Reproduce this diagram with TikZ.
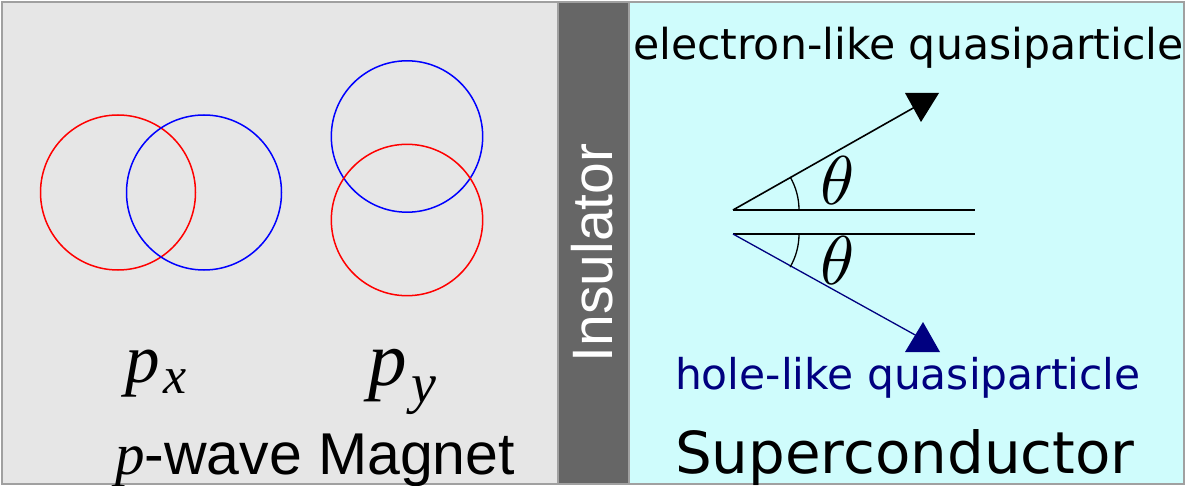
\documentclass[tikz,border=0pt]{standalone}
\usepackage{fontspec}
\newfontfamily\dejavu{DejaVu Sans}
\newfontfamily\arialf{Liberation Sans}
\newfontfamily\tnr{Liberation Serif}
\definecolor{panelgray}{RGB}{230,230,230}
\definecolor{bordergray}{RGB}{160,160,160}
\definecolor{insgray}{RGB}{102,102,102}
\definecolor{sccyan}{RGB}{207,252,252}
\definecolor{navyc}{RGB}{0,0,128}
\begin{document}
\begin{tikzpicture}[x=1pt,y=-1pt,
  panel/.style={draw=bordergray,line width=2pt},
  orbit/.style={line width=1.5pt},
  txt/.style={inner sep=0pt,outer sep=0pt},
  ray/.style={line width=1.6pt},
  tip/.style={fill,draw=none}]
\useasboundingbox (0,0) rectangle (1190,486);
% panels
\draw[panel,fill=panelgray] (2,2) rectangle (558,484);
\draw[panel,fill=insgray] (558,2) rectangle (629,484);
\draw[panel,fill=sccyan] (629,2) rectangle (1184,484);
% orbitals
\draw[orbit,red] (118,192.5) circle (77.5);
\draw[orbit,blue] (204,192.5) circle (77.5);
\draw[orbit,blue] (407,136.5) circle (75.7);
\draw[orbit,red] (407,220) circle (75.7);
% labels left
\node[txt,anchor=base west] (px) at (125,382) {\tnr\itshape\fontsize{69}{69}\selectfont p\kern4pt\raisebox{-11pt}{\fontsize{52}{52}\selectfont x}};
\node[txt,anchor=base west] (py) at (368,385) {\tnr\itshape\fontsize{77}{77}\selectfont p\kern5pt\raisebox{-17pt}{\fontsize{56}{56}\selectfont y}};
\node[txt,anchor=base west] (mag) at (115,474) {\fontsize{59}{59}\selectfont{\tnr\itshape p}{\arialf -wave Magnet}};
% insulator
\node[txt,rotate=90,text=white] (ins) at (592,253) {\arialf\fontsize{57}{57}\selectfont Insulator};
% superconductor side
\node[txt,anchor=base west] (el) at (633,60) {\dejavu\fontsize{42.6}{50}\selectfont electron-like quasiparticle};
\node[txt,anchor=base west,text=navyc] (hole) at (675,389) {\dejavu\fontsize{42.4}{50}\selectfont hole-like quasiparticle};
\node[txt,anchor=base west] (sc) at (675,473) {\dejavu\fontsize{57.9}{60}\selectfont Superconductor};
% geometry
\coordinate (v1) at (733,210);
\coordinate (v2) at (733,234);
\coordinate (h1) at (975,210);
\coordinate (h2) at (975,234);
\coordinate (e1) at (915,107);
\coordinate (e2) at (917,336);
\draw[line width=1.4pt] (v1) -- (h1);
\draw[line width=1.4pt] (v2) -- (h2);
\draw[ray,black] (v1) -- (e1);
\draw[ray,navyc,line width=1.3pt] (v2) -- (e2);
\fill[black] (905,93) -- (939,93) -- (921,122) -- cycle;
\fill[navyc] (905,352) -- (940,352) -- (923,322) -- cycle;
\draw[line width=1.3pt] ([shift={(66,0)}]v1) arc[start angle=0,end angle=-30,radius=66];
\draw[line width=1.3pt] ([shift={(66,0)}]v2) arc[start angle=0,end angle=30,radius=66];
\node[txt] (t1) at (838,181) {\scalebox{6.9}{$\theta$}};
\node[txt] (t2) at (838,261) {\scalebox{6.9}{$\theta$}};
\end{tikzpicture}
\end{document}
